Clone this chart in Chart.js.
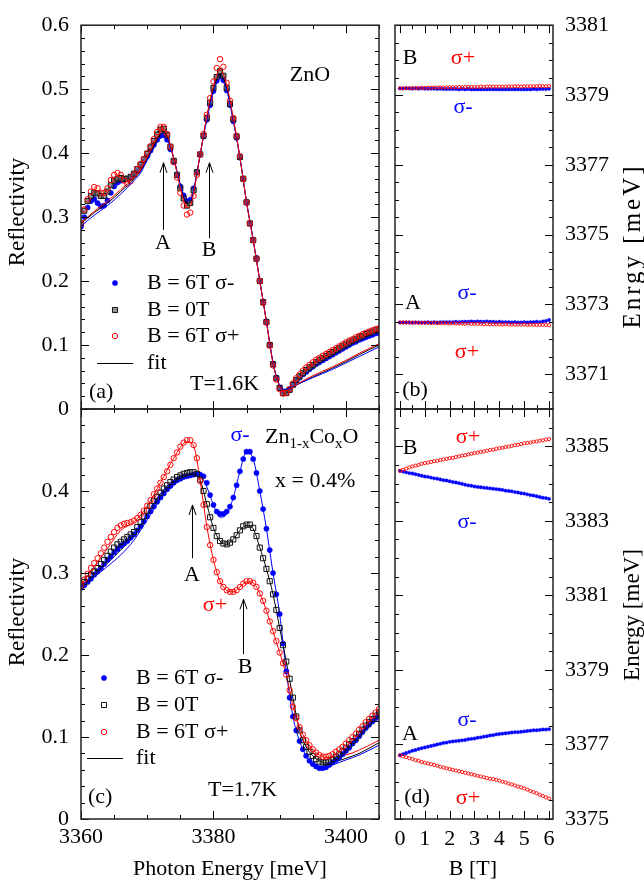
<!DOCTYPE html>
<html>
<head>
<meta charset="utf-8">
<title>ZnO and Zn1-xCoxO reflectivity</title>
<script src="https://cdn.jsdelivr.net/npm/chart.js@4.4.1/dist/chart.umd.min.js"></script>
<style>
  html, body { margin: 0; padding: 0; background: #fff; }
  #wrap { position: relative; width: 644px; height: 882px; }
  #wrap canvas { position: absolute; left: 0; top: 0; }
</style>
</head>
<body>
<div id="wrap">
  <canvas id="panelA" width="644" height="882"></canvas>
  <canvas id="panelB" width="644" height="882"></canvas>
  <canvas id="panelC" width="644" height="882"></canvas>
  <canvas id="panelD" width="644" height="882"></canvas>
</div>
<script>
// ---- data: photon energy grid (meV), shared by (a) and (c)
const energy = [
  3360,3360.5,3361,3361.5,3362,3362.5,3363,3363.5,3364,3364.5,
  3365,3365.5,3366,3366.5,3367,3367.5,3368,3368.5,3369,3369.5,
  3370,3370.5,3371,3371.5,3372,3372.5,3373,3373.5,3374,3374.5,
  3375,3375.5,3376,3376.5,3377,3377.5,3378,3378.5,3379,3379.5,
  3380,3380.5,3381,3381.5,3382,3382.5,3383,3383.5,3384,3384.5,
  3385,3385.5,3386,3386.5,3387,3387.5,3388,3388.5,3389,3389.5,
  3390,3390.5,3391,3391.5,3392,3392.5,3393,3393.5,3394,3394.5,
  3395,3395.5,3396,3396.5,3397,3397.5,3398,3398.5,3399,3399.5,
  3400,3400.5,3401,3401.5,3402,3402.5,3403,3403.5,3404,3404.5,
  3405
];

// (a) ZnO, T=1.6K
const znoSigmaMinus = [
  0.285,0.300,0.315,0.325,0.328,0.322,0.317,0.318,0.326,0.338,
  0.348,0.354,0.357,0.358,0.359,0.362,0.366,0.372,0.379,0.387,
  0.395,0.404,0.413,0.421,0.427,0.428,0.421,0.406,0.386,0.366,
  0.348,0.334,0.325,0.327,0.345,0.371,0.398,0.426,0.452,0.475,
  0.497,0.513,0.520,0.514,0.498,0.475,0.450,0.424,0.393,0.360,
  0.324,0.291,0.265,0.236,0.201,0.168,0.137,0.101,0.071,0.049,
  0.034,0.027,0.027,0.031,0.038,0.044,0.049,0.054,0.058,0.062,
  0.066,0.070,0.073,0.076,0.079,0.082,0.085,0.088,0.091,0.094,
  0.097,0.100,0.103,0.105,0.108,0.110,0.112,0.114,0.116,0.118,
  0.119
];
const znoZeroField = [
  0.290,0.310,0.325,0.333,0.338,0.337,0.333,0.333,0.340,0.350,
  0.357,0.360,0.361,0.360,0.360,0.363,0.368,0.375,0.382,0.390,
  0.399,0.409,0.419,0.429,0.437,0.438,0.428,0.410,0.388,0.366,
  0.345,0.329,0.318,0.322,0.342,0.370,0.398,0.427,0.455,0.479,
  0.502,0.519,0.528,0.521,0.502,0.477,0.453,0.426,0.394,0.360,
  0.323,0.290,0.264,0.235,0.200,0.167,0.136,0.100,0.070,0.048,
  0.033,0.025,0.025,0.030,0.038,0.045,0.051,0.056,0.061,0.065,
  0.069,0.073,0.077,0.080,0.083,0.086,0.089,0.092,0.095,0.098,
  0.101,0.104,0.107,0.109,0.112,0.114,0.117,0.119,0.121,0.123,
  0.124
];
const znoSigmaPlus = [
  0.290,0.312,0.328,0.340,0.347,0.345,0.338,0.338,0.345,0.358,
  0.366,0.369,0.366,0.357,0.352,0.356,0.366,0.375,0.383,0.391,
  0.400,0.411,0.422,0.433,0.441,0.441,0.430,0.410,0.386,0.362,
  0.338,0.318,0.304,0.307,0.333,0.366,0.398,0.430,0.460,0.486,
  0.512,0.533,0.547,0.535,0.510,0.482,0.455,0.427,0.395,0.360,
  0.323,0.290,0.264,0.235,0.200,0.166,0.135,0.099,0.068,0.046,
  0.031,0.024,0.025,0.031,0.040,0.048,0.054,0.060,0.065,0.069,
  0.073,0.077,0.080,0.083,0.086,0.089,0.092,0.095,0.098,0.101,
  0.104,0.107,0.109,0.112,0.114,0.117,0.119,0.121,0.123,0.125,
  0.126
];
const znoFitEnergy = [3360,3362,3364,3366,3368,3369,3370,3371,3372,3372.5,3373,3374,3375,3376,3376.5,3377,3378,3379,3380,3381,3382,3383,3384,3385,3386,3387,3388,3389,3390,3390.5,3391,3392,3393,3395,3398,3400,3402,3405];
const znoFitMinus = [0.286,0.303,0.318,0.336,0.357,0.369,0.389,0.408,0.424,0.427,0.421,0.392,0.351,0.326,0.327,0.343,0.398,0.452,0.495,0.517,0.498,0.450,0.393,0.324,0.265,0.201,0.137,0.073,0.037,0.031,0.031,0.035,0.040,0.049,0.062,0.072,0.082,0.097];
const znoFitZero  = [0.290,0.307,0.322,0.340,0.360,0.372,0.392,0.412,0.429,0.432,0.426,0.393,0.350,0.322,0.323,0.340,0.398,0.455,0.500,0.523,0.502,0.452,0.393,0.323,0.264,0.200,0.137,0.072,0.036,0.030,0.030,0.034,0.040,0.050,0.064,0.074,0.085,0.100];
const znoFitPlus  = [0.291,0.309,0.325,0.343,0.362,0.374,0.394,0.415,0.433,0.436,0.429,0.392,0.345,0.315,0.317,0.337,0.398,0.458,0.505,0.530,0.507,0.455,0.394,0.323,0.264,0.200,0.136,0.071,0.035,0.029,0.029,0.034,0.041,0.052,0.066,0.076,0.087,0.102];

// (c) Zn1-xCoxO, x = 0.4%, T=1.7K
const zncoSigmaMinus = [
  0.282,0.285,0.289,0.293,0.298,0.302,0.306,0.311,0.316,0.320,
  0.325,0.329,0.333,0.336,0.339,0.343,0.347,0.352,0.357,0.363,
  0.369,0.375,0.381,0.387,0.392,0.397,0.402,0.406,0.410,0.413,
  0.415,0.417,0.418,0.419,0.420,0.421,0.420,0.418,0.410,0.395,
  0.383,0.375,0.372,0.372,0.375,0.381,0.392,0.407,0.424,0.439,
  0.448,0.448,0.439,0.422,0.400,0.378,0.354,0.328,0.300,0.274,
  0.250,0.214,0.180,0.148,0.125,0.108,0.095,0.085,0.077,0.071,
  0.067,0.064,0.062,0.062,0.063,0.066,0.069,0.072,0.075,0.079,
  0.083,0.087,0.092,0.096,0.101,0.106,0.111,0.115,0.119,0.123,
  0.127
];
const zncoZeroField = [
  0.285,0.289,0.293,0.298,0.302,0.306,0.311,0.316,0.321,0.326,
  0.331,0.335,0.338,0.341,0.344,0.347,0.350,0.356,0.362,0.369,
  0.376,0.382,0.388,0.393,0.398,0.403,0.407,0.411,0.414,0.417,
  0.419,0.421,0.422,0.423,0.423,0.421,0.414,0.400,0.384,0.368,
  0.355,0.345,0.339,0.336,0.335,0.337,0.341,0.346,0.352,0.357,
  0.359,0.359,0.355,0.345,0.331,0.318,0.305,0.290,0.274,0.255,
  0.233,0.212,0.192,0.171,0.148,0.125,0.108,0.096,0.088,0.082,
  0.077,0.073,0.070,0.069,0.069,0.070,0.073,0.076,0.079,0.083,
  0.087,0.091,0.095,0.099,0.104,0.109,0.114,0.118,0.122,0.126,
  0.130
];
const zncoSigmaPlus = [
  0.285,0.292,0.299,0.306,0.312,0.318,0.324,0.331,0.338,0.344,
  0.350,0.355,0.358,0.360,0.361,0.362,0.364,0.367,0.371,0.376,
  0.382,0.389,0.396,0.403,0.410,0.417,0.424,0.432,0.440,0.447,
  0.454,0.459,0.462,0.462,0.456,0.440,0.412,0.383,0.356,0.334,
  0.316,0.301,0.290,0.283,0.279,0.277,0.277,0.279,0.283,0.287,
  0.290,0.290,0.288,0.283,0.275,0.266,0.254,0.241,0.229,0.217,
  0.203,0.190,0.176,0.157,0.137,0.123,0.112,0.103,0.096,0.090,
  0.085,0.081,0.078,0.076,0.076,0.077,0.079,0.082,0.085,0.088,
  0.092,0.096,0.100,0.104,0.109,0.113,0.118,0.122,0.126,0.130,
  0.134
];
const zncoFitEnergy = [3360,3362,3364,3366,3368,3370,3372,3374,3376,3377,3378,3379,3380,3381,3382,3383,3384,3385,3386,3387,3388,3389,3390,3391,3392,3393,3394,3395,3396,3397,3398,3400,3402,3405];
const zncoFitMinus = [0.282,0.295,0.308,0.322,0.340,0.365,0.390,0.409,0.417,0.419,0.418,0.405,0.383,0.368,0.372,0.392,0.424,0.448,0.439,0.400,0.354,0.300,0.250,0.180,0.125,0.095,0.077,0.067,0.063,0.064,0.066,0.072,0.078,0.090];
const zncoFitZero  = [0.284,0.298,0.312,0.328,0.345,0.372,0.397,0.413,0.421,0.421,0.413,0.384,0.355,0.339,0.335,0.341,0.352,0.358,0.354,0.331,0.305,0.274,0.233,0.192,0.148,0.108,0.088,0.077,0.071,0.068,0.069,0.074,0.080,0.093];
const zncoFitPlus  = [0.285,0.308,0.330,0.352,0.362,0.382,0.410,0.440,0.460,0.455,0.412,0.357,0.316,0.290,0.279,0.277,0.283,0.289,0.288,0.275,0.254,0.229,0.203,0.176,0.138,0.112,0.096,0.085,0.078,0.075,0.075,0.078,0.084,0.096];

// magnetic field grid (T), shared by (b) and (d)
const field = [
  0,0.125,0.25,0.375,0.5,0.625,0.75,0.875,
  1,1.125,1.25,1.375,1.5,1.625,1.75,1.875,
  2,2.125,2.25,2.375,2.5,2.625,2.75,2.875,
  3,3.125,3.25,3.375,3.5,3.625,3.75,3.875,
  4,4.125,4.25,4.375,4.5,4.625,4.75,4.875,
  5,5.125,5.25,5.375,5.5,5.625,5.75,5.875,
  6
];

// (b) ZnO exciton energies (meV)
const znoBPlus = [
  3379.19,3379.19,3379.20,3379.19,3379.20,3379.20,3379.20,3379.21,
  3379.20,3379.21,3379.21,3379.21,3379.21,3379.22,3379.21,3379.22,
  3379.22,3379.22,3379.22,3379.23,3379.22,3379.23,3379.23,3379.23,
  3379.23,3379.23,3379.24,3379.23,3379.24,3379.24,3379.24,3379.24,
  3379.24,3379.24,3379.24,3379.25,3379.24,3379.25,3379.25,3379.24,
  3379.25,3379.25,3379.25,3379.25,3379.25,3379.26,3379.25,3379.25,
  3379.26
];
const znoBMinus = [
  3379.19,3379.19,3379.19,3379.19,3379.18,3379.19,3379.18,3379.19,
  3379.18,3379.18,3379.18,3379.18,3379.17,3379.18,3379.17,3379.17,
  3379.17,3379.17,3379.17,3379.16,3379.17,3379.16,3379.17,3379.16,
  3379.16,3379.16,3379.16,3379.16,3379.16,3379.16,3379.16,3379.16,
  3379.16,3379.16,3379.16,3379.16,3379.16,3379.16,3379.16,3379.16,
  3379.16,3379.16,3379.16,3379.17,3379.16,3379.17,3379.17,3379.17,
  3379.18
];
const znoAMinus = [
  3372.48,3372.48,3372.48,3372.48,3372.48,3372.48,3372.48,3372.48,
  3372.48,3372.49,3372.48,3372.49,3372.48,3372.49,3372.49,3372.49,
  3372.49,3372.49,3372.50,3372.49,3372.50,3372.50,3372.50,3372.51,
  3372.50,3372.51,3372.50,3372.50,3372.51,3372.50,3372.50,3372.49,
  3372.50,3372.49,3372.49,3372.49,3372.48,3372.49,3372.48,3372.48,
  3372.49,3372.48,3372.49,3372.49,3372.50,3372.49,3372.51,3372.52,
  3372.55
];
const znoAPlus = [
  3372.48,3372.48,3372.48,3372.48,3372.47,3372.48,3372.47,3372.47,
  3372.47,3372.47,3372.46,3372.47,3372.46,3372.46,3372.46,3372.46,
  3372.45,3372.46,3372.45,3372.45,3372.45,3372.44,3372.45,3372.44,
  3372.44,3372.44,3372.44,3372.43,3372.44,3372.43,3372.43,3372.43,
  3372.43,3372.42,3372.43,3372.42,3372.42,3372.42,3372.42,3372.42,
  3372.42,3372.41,3372.42,3372.41,3372.41,3372.41,3372.41,3372.41,
  3372.40
];

// (d) Zn1-xCoxO exciton energies (meV)
const zncoBPlus = [
  3384.34,3384.37,3384.40,3384.43,3384.46,3384.48,3384.50,3384.53,
  3384.55,3384.56,3384.58,3384.60,3384.61,3384.63,3384.65,3384.66,
  3384.68,3384.69,3384.71,3384.73,3384.75,3384.76,3384.78,3384.80,
  3384.82,3384.83,3384.85,3384.86,3384.88,3384.90,3384.91,3384.93,
  3384.95,3384.96,3384.98,3384.99,3385.01,3385.03,3385.04,3385.06,
  3385.08,3385.09,3385.10,3385.12,3385.13,3385.15,3385.16,3385.18,
  3385.19
];
const zncoBMinus = [
  3384.34,3384.32,3384.30,3384.28,3384.27,3384.25,3384.23,3384.21,
  3384.19,3384.18,3384.16,3384.14,3384.13,3384.11,3384.09,3384.08,
  3384.06,3384.04,3384.03,3384.01,3383.99,3383.97,3383.95,3383.94,
  3383.92,3383.91,3383.90,3383.89,3383.88,3383.87,3383.86,3383.85,
  3383.84,3383.83,3383.81,3383.80,3383.79,3383.77,3383.76,3383.74,
  3383.73,3383.71,3383.69,3383.68,3383.66,3383.64,3383.62,3383.61,
  3383.59
];
const zncoAMinus = [
  3376.71,3376.74,3376.77,3376.80,3376.83,3376.85,3376.88,3376.90,
  3376.92,3376.94,3376.96,3376.98,3377.00,3377.02,3377.04,3377.05,
  3377.07,3377.08,3377.09,3377.10,3377.11,3377.12,3377.14,3377.15,
  3377.16,3377.18,3377.19,3377.21,3377.22,3377.24,3377.25,3377.27,
  3377.28,3377.29,3377.30,3377.31,3377.32,3377.33,3377.33,3377.34,
  3377.35,3377.36,3377.37,3377.38,3377.38,3377.39,3377.40,3377.40,
  3377.41
];
const zncoAPlus = [
  3376.71,3376.68,3376.66,3376.63,3376.61,3376.58,3376.56,3376.53,
  3376.51,3376.49,3376.47,3376.45,3376.43,3376.40,3376.38,3376.36,
  3376.34,3376.32,3376.30,3376.28,3376.26,3376.24,3376.22,3376.20,
  3376.18,3376.16,3376.14,3376.12,3376.10,3376.08,3376.07,3376.05,
  3376.03,3376.00,3375.98,3375.95,3375.93,3375.90,3375.87,3375.85,
  3375.82,3375.79,3375.75,3375.72,3375.69,3375.65,3375.62,3375.58,
  3375.55
];

// tick labels
const energyTicks = [3360, 3380, 3400];
const reflTicksA = [0, 0.1, 0.2, 0.3, 0.4, 0.5, 0.6];
const reflTicksC = [0, 0.1, 0.2, 0.3, 0.4];
const fieldTicks = [0, 1, 2, 3, 4, 5, 6];
const levelTicksB = [3371, 3373, 3375, 3377, 3379, 3381];
const levelTicksD = [3375, 3377, 3379, 3381, 3383, 3385];

// ---- look
const SERIF = '"Liberation Serif", "Times New Roman", serif';
const BLUE = '#0000ff', RED = '#ff0000', INK = '#000000';
const W = 644, H = 882;

Chart.defaults.font.family = SERIF;
Chart.defaults.color = INK;

const dotBlue = { pointStyle: 'circle', pointRadius: 2.6, backgroundColor: BLUE, borderColor: BLUE, borderWidth: 0.5 };
const ringRed = { pointStyle: 'circle', pointRadius: 2.7, backgroundColor: 'rgba(0,0,0,0)', borderColor: RED, borderWidth: 1 };
const squareGrey = { pointStyle: 'rect', pointRadius: 3.6, backgroundColor: 'rgba(110,110,110,0.75)', borderColor: '#111', borderWidth: 1 };
const squareOpen = { pointStyle: 'rect', pointRadius: 3.6, backgroundColor: 'rgba(255,255,255,0)', borderColor: '#111', borderWidth: 1 };
const smallDot = { pointStyle: 'circle', pointRadius: 1.7, backgroundColor: BLUE, borderColor: BLUE, borderWidth: 0.4 };
const smallRing = { pointStyle: 'circle', pointRadius: 1.6, backgroundColor: 'rgba(0,0,0,0)', borderColor: RED, borderWidth: 0.9 };

function pairs(xs, ys) {
  return xs.map((x, i) => ({ x: x, y: ys[i] }));
}
function markers(label, xs, ys, style) {
  return Object.assign({ label: label, data: pairs(xs, ys), showLine: false }, style);
}
function fitLine(label, xs, ys, color) {
  return {
    label: label, data: pairs(xs, ys), showLine: true, pointRadius: 0,
    borderColor: color, borderWidth: 1, cubicInterpolationMode: 'monotone', fill: false
  };
}

// inward ticks on all four sides + frame, like the original plot
function tickMarks(s) {
  const out = [];
  const n = Math.round((s.to - s.from) / s.minor);
  for (let i = 0; i <= n; i++) {
    const v = s.from + i * s.minor;
    const k = (v - s.majorAt) / s.major;
    out.push([v, Math.abs(k - Math.round(k)) < 1e-6]);
  }
  return out;
}
const frameTicks = {
  id: 'frameTicks',
  afterDatasetsDraw(chart, args, o) {
    const { ctx, chartArea: a } = chart;
    const sx = chart.scales.x, sy = chart.scales.y;
    ctx.save();
    ctx.strokeStyle = INK;
    ctx.lineWidth = 1;
    ctx.beginPath();
    tickMarks(o.x).forEach(([v, major]) => {
      const p = Math.round(sx.getPixelForValue(v)) + 0.5;
      const len = major ? 8 : 4;
      ctx.moveTo(p, a.bottom); ctx.lineTo(p, a.bottom - len);
      ctx.moveTo(p, a.top); ctx.lineTo(p, a.top + len);
    });
    tickMarks(o.y).forEach(([v, major]) => {
      const p = Math.round(sy.getPixelForValue(v)) + 0.5;
      const len = major ? 8 : 4;
      ctx.moveTo(a.left, p); ctx.lineTo(a.left + len, p);
      ctx.moveTo(a.right, p); ctx.lineTo(a.right - len, p);
    });
    ctx.stroke();
    ctx.lineWidth = 1.5;
    ctx.strokeStyle = '#222';
    ctx.strokeRect(a.left, a.top, a.right - a.left, a.bottom - a.top);
    ctx.restore();
  }
};

// texts, arrows and hand-placed legend
function drawMarker(ctx, st, x, y) {
  ctx.save();
  ctx.lineWidth = st.borderWidth;
  ctx.strokeStyle = st.borderColor;
  ctx.fillStyle = st.backgroundColor;
  ctx.beginPath();
  if (st.pointStyle === 'rect') {
    const h = st.pointRadius * Math.SQRT1_2;
    ctx.rect(x - h, y - h, 2 * h, 2 * h);
  } else {
    ctx.arc(x, y, st.pointRadius, 0, Math.PI * 2);
  }
  ctx.fill();
  if (st.borderWidth) ctx.stroke();
  ctx.restore();
}
function drawText(ctx, t) {
  ctx.save();
  ctx.fillStyle = t.color || INK;
  ctx.textBaseline = 'middle';
  ctx.font = (t.size || 22) + 'px ' + SERIF;
  if (t.spacing) ctx.letterSpacing = t.spacing;
  if (t.rot) {
    ctx.translate(t.x, t.y);
    ctx.rotate(-Math.PI / 2);
    ctx.textAlign = 'center';
    ctx.fillText(t.text, 0, 0);
  } else if (t.parts) {
    let x = t.x;
    t.parts.forEach(p => {
      ctx.font = (p.sub ? 15 : (t.size || 22)) + 'px ' + SERIF;
      ctx.textAlign = 'left';
      ctx.fillText(p.t, x, t.y + (p.sub ? 7 : 0));
      x += ctx.measureText(p.t).width;
    });
  } else {
    ctx.textAlign = t.align || 'center';
    ctx.fillText(t.text, t.x, t.y);
  }
  ctx.restore();
}
const notes = {
  id: 'notes',
  afterDraw(chart, args, o) {
    const ctx = chart.ctx;
    const sx = chart.scales.x, sy = chart.scales.y;
    ctx.save();
    ctx.strokeStyle = INK;
    ctx.lineWidth = 1;
    (o.arrows || []).forEach(ar => {
      const x = Math.round(sx.getPixelForValue(ar.x)) + 0.5;
      const yTail = sy.getPixelForValue(ar.from), yTip = sy.getPixelForValue(ar.to);
      ctx.beginPath();
      ctx.moveTo(x, yTail); ctx.lineTo(x, yTip);
      ctx.moveTo(x - 3.5, yTip + 10); ctx.lineTo(x, yTip); ctx.lineTo(x + 3.5, yTip + 10);
      ctx.stroke();
    });
    (o.legend || []).forEach(it => {
      if (it.marker) {
        drawMarker(ctx, it.marker, it.mx, it.y);
      } else {
        ctx.beginPath();
        ctx.moveTo(it.line[0], it.y + 0.5); ctx.lineTo(it.line[1], it.y + 0.5);
        ctx.stroke();
      }
      drawText(ctx, { text: it.text, x: it.tx, y: it.y, align: 'left' });
    });
    (o.texts || []).forEach(t => drawText(ctx, t));
    ctx.restore();
  }
};

// Each panel gets its own full-page canvas; the axis boxes are sized so that
// the plot area lands exactly where the original frame is.
function panel(id, cfg) {
  const a = cfg.area; // left, top, right, bottom in page pixels
  const yLeft = cfg.y.pos === 'left';
  const yBox = yLeft ? a[0] : W - a[2];
  const xBox = cfg.x.show ? H - a[3] : 0;
  return new Chart(document.getElementById(id), {
    type: 'scatter',
    data: { datasets: cfg.datasets },
    options: {
      responsive: false,
      animation: false,
      devicePixelRatio: 1,
      layout: {
        padding: {
          left: yLeft ? 0 : a[0],
          right: yLeft ? W - a[2] : 0,
          top: a[1],
          bottom: cfg.x.show ? 0 : H - a[3]
        }
      },
      plugins: {
        legend: { display: false },
        tooltip: { enabled: false },
        frameTicks: cfg.ticks,
        notes: cfg.notes
      },
      scales: {
        x: {
          type: 'linear', position: 'bottom', min: cfg.x.min, max: cfg.x.max,
          grid: { display: false, drawTicks: false }, border: { display: false },
          afterBuildTicks: s => { s.ticks = cfg.x.labels.map(v => ({ value: v })); },
          afterFit: s => { s.height = xBox; },
          ticks: {
            display: cfg.x.show, padding: cfg.x.pad || 2, maxRotation: 0, autoSkip: false,
            font: { size: 22 }, color: INK, callback: v => String(v)
          }
        },
        y: {
          type: 'linear', position: cfg.y.pos, min: cfg.y.min, max: cfg.y.max,
          grid: { display: false, drawTicks: false }, border: { display: false },
          afterBuildTicks: s => { s.ticks = cfg.y.labels.map(v => ({ value: v })); },
          afterFit: s => { s.width = yBox; },
          ticks: {
            padding: cfg.y.pad, autoSkip: false, font: { size: 22 }, color: INK,
            callback: cfg.y.format
          }
        }
      }
    },
    plugins: [frameTicks, notes]
  });
}

const reflFormat = v => (v === 0 ? '0' : v.toFixed(1));

// (a) ZnO reflectivity
panel('panelA', {
  area: [81, 14, 379, 409],
  x: { min: 3360, max: 3405, labels: energyTicks, show: false },
  y: { min: 0, max: 0.6, labels: reflTicksA, pos: 'left', pad: 12, format: reflFormat },
  ticks: {
    x: { from: 3360, to: 3405, minor: 5, major: 20, majorAt: 3360 },
    y: { from: 0, to: 0.6, minor: 0.02, major: 0.1, majorAt: 0 }
  },
  datasets: [
    fitLine('fit σ+', znoFitEnergy, znoFitPlus, RED),
    fitLine('fit σ-', znoFitEnergy, znoFitMinus, BLUE),
    fitLine('fit 0T', znoFitEnergy, znoFitZero, INK),
    markers('B = 6T σ+', energy, znoSigmaPlus, ringRed),
    markers('B = 0T', energy, znoZeroField, squareGrey),
    markers('B = 6T σ-', energy, znoSigmaMinus, dotBlue)
  ],
  notes: {
    arrows: [
      { x: 3372.4, from: 0.28, to: 0.385 },
      { x: 3379.3, from: 0.267, to: 0.385 }
    ],
    legend: [
      { marker: dotBlue, mx: 115, tx: 147, y: 283, text: 'B = 6T σ-' },
      { marker: squareGrey, mx: 115, tx: 147, y: 310, text: 'B = 0T' },
      { marker: ringRed, mx: 115, tx: 147, y: 336, text: 'B = 6T σ+' },
      { line: [97, 133], tx: 147, y: 363, text: 'fit' }
    ],
    texts: [
      { text: 'ZnO', x: 310, y: 75 },
      { text: 'A', x: 163, y: 243 },
      { text: 'B', x: 209, y: 250 },
      { text: '(a)', x: 89, y: 392, align: 'left' },
      { text: 'T=1.6K', x: 190, y: 384, align: 'left' },
      { text: 'Reflectivity', x: 18, y: 212, rot: true, size: 23 }
    ]
  }
});

// (c) Zn1-xCoxO reflectivity
panel('panelC', {
  area: [81, 409, 379, 819],
  x: { min: 3360, max: 3405, labels: energyTicks, show: true, pad: 5 },
  y: { min: 0, max: 0.5, labels: reflTicksC, pos: 'left', pad: 12, format: reflFormat },
  ticks: {
    x: { from: 3360, to: 3405, minor: 5, major: 20, majorAt: 3360 },
    y: { from: 0, to: 0.5, minor: 0.02, major: 0.1, majorAt: 0 }
  },
  datasets: [
    markers('B = 6T σ+', energy, zncoSigmaPlus, ringRed),
    markers('B = 0T', energy, zncoZeroField, squareOpen),
    markers('B = 6T σ-', energy, zncoSigmaMinus, dotBlue),
    fitLine('fit σ+', zncoFitEnergy, zncoFitPlus, RED),
    fitLine('fit 0T', zncoFitEnergy, zncoFitZero, INK),
    fitLine('fit σ-', zncoFitEnergy, zncoFitMinus, BLUE)
  ],
  notes: {
    arrows: [
      { x: 3376.7, from: 0.318, to: 0.383 },
      { x: 3384.4, from: 0.201, to: 0.268 }
    ],
    legend: [
      { marker: dotBlue, mx: 104, tx: 136, y: 678, text: 'B = 6T σ-' },
      { marker: squareOpen, mx: 104, tx: 136, y: 705, text: 'B = 0T' },
      { marker: ringRed, mx: 104, tx: 136, y: 732, text: 'B = 6T σ+' },
      { line: [87, 123], tx: 136, y: 758, text: 'fit' }
    ],
    texts: [
      { text: 'σ-', x: 240, y: 435, color: BLUE },
      { parts: [{ t: 'Zn' }, { t: '1-x', sub: true }, { t: 'Co' }, { t: 'x', sub: true }, { t: 'O' }], x: 265, y: 437 },
      { text: 'x = 0.4%', x: 275, y: 481, align: 'left' },
      { text: 'A', x: 192, y: 575 },
      { text: 'σ+', x: 215, y: 605, color: RED },
      { text: 'B', x: 245, y: 667 },
      { text: '(c)', x: 88, y: 797, align: 'left' },
      { text: 'T=1.7K', x: 208, y: 790, align: 'left' },
      { text: 'Reflectivity', x: 18, y: 612, rot: true, size: 23 },
      { text: 'Photon Energy [meV]', x: 230, y: 869 }
    ]
  }
});

// (b) ZnO exciton energies vs field
panel('panelB', {
  area: [395, 14, 553, 409],
  x: { min: -0.2, max: 6.16, labels: fieldTicks, show: false },
  y: { min: 3370, max: 3381, labels: levelTicksB, pos: 'right', pad: 12, format: v => String(v) },
  ticks: {
    x: { from: 0, to: 6, minor: 0.5, major: 1, majorAt: 0 },
    y: { from: 3370, to: 3381, minor: 0.5, major: 2, majorAt: 3371 }
  },
  datasets: [
    markers('B σ+', field, znoBPlus, smallRing),
    markers('B σ-', field, znoBMinus, smallDot),
    markers('A σ+', field, znoAPlus, smallRing),
    markers('A σ-', field, znoAMinus, smallDot)
  ],
  notes: {
    texts: [
      { text: 'B', x: 410, y: 58 },
      { text: 'σ+', x: 463, y: 58, color: RED },
      { text: 'σ-', x: 463, y: 107, color: BLUE },
      { text: 'σ-', x: 467, y: 293, color: BLUE },
      { text: 'A', x: 413, y: 303 },
      { text: 'σ+', x: 467, y: 352, color: RED },
      { text: '(b)', x: 415, y: 390 },
      { text: 'Enrgy [meV]', x: 633, y: 246, rot: true, size: 25, spacing: '3px' }
    ]
  }
});

// (d) Zn1-xCoxO exciton energies vs field
panel('panelD', {
  area: [395, 409, 553, 819],
  x: { min: -0.2, max: 6.16, labels: fieldTicks, show: true, pad: 7 },
  y: { min: 3375, max: 3386, labels: levelTicksD, pos: 'right', pad: 12, format: v => String(v) },
  ticks: {
    x: { from: 0, to: 6, minor: 0.5, major: 1, majorAt: 0 },
    y: { from: 3375, to: 3386, minor: 0.5, major: 2, majorAt: 3375 }
  },
  datasets: [
    markers('B σ+', field, zncoBPlus, smallRing),
    markers('B σ-', field, zncoBMinus, smallDot),
    markers('A σ+', field, zncoAPlus, smallRing),
    markers('A σ-', field, zncoAMinus, smallDot)
  ],
  notes: {
    texts: [
      { text: 'B', x: 410, y: 448 },
      { text: 'σ+', x: 468, y: 437, color: RED },
      { text: 'σ-', x: 467, y: 522, color: BLUE },
      { text: 'σ-', x: 467, y: 720, color: BLUE },
      { text: 'A', x: 410, y: 734 },
      { text: '(d)', x: 417, y: 797 },
      { text: 'σ+', x: 468, y: 798, color: RED },
      { text: 'Energy [meV]', x: 633, y: 615, rot: true, size: 23 },
      { text: 'B [T]', x: 473, y: 869 }
    ]
  }
});
</script>
</body>
</html>
